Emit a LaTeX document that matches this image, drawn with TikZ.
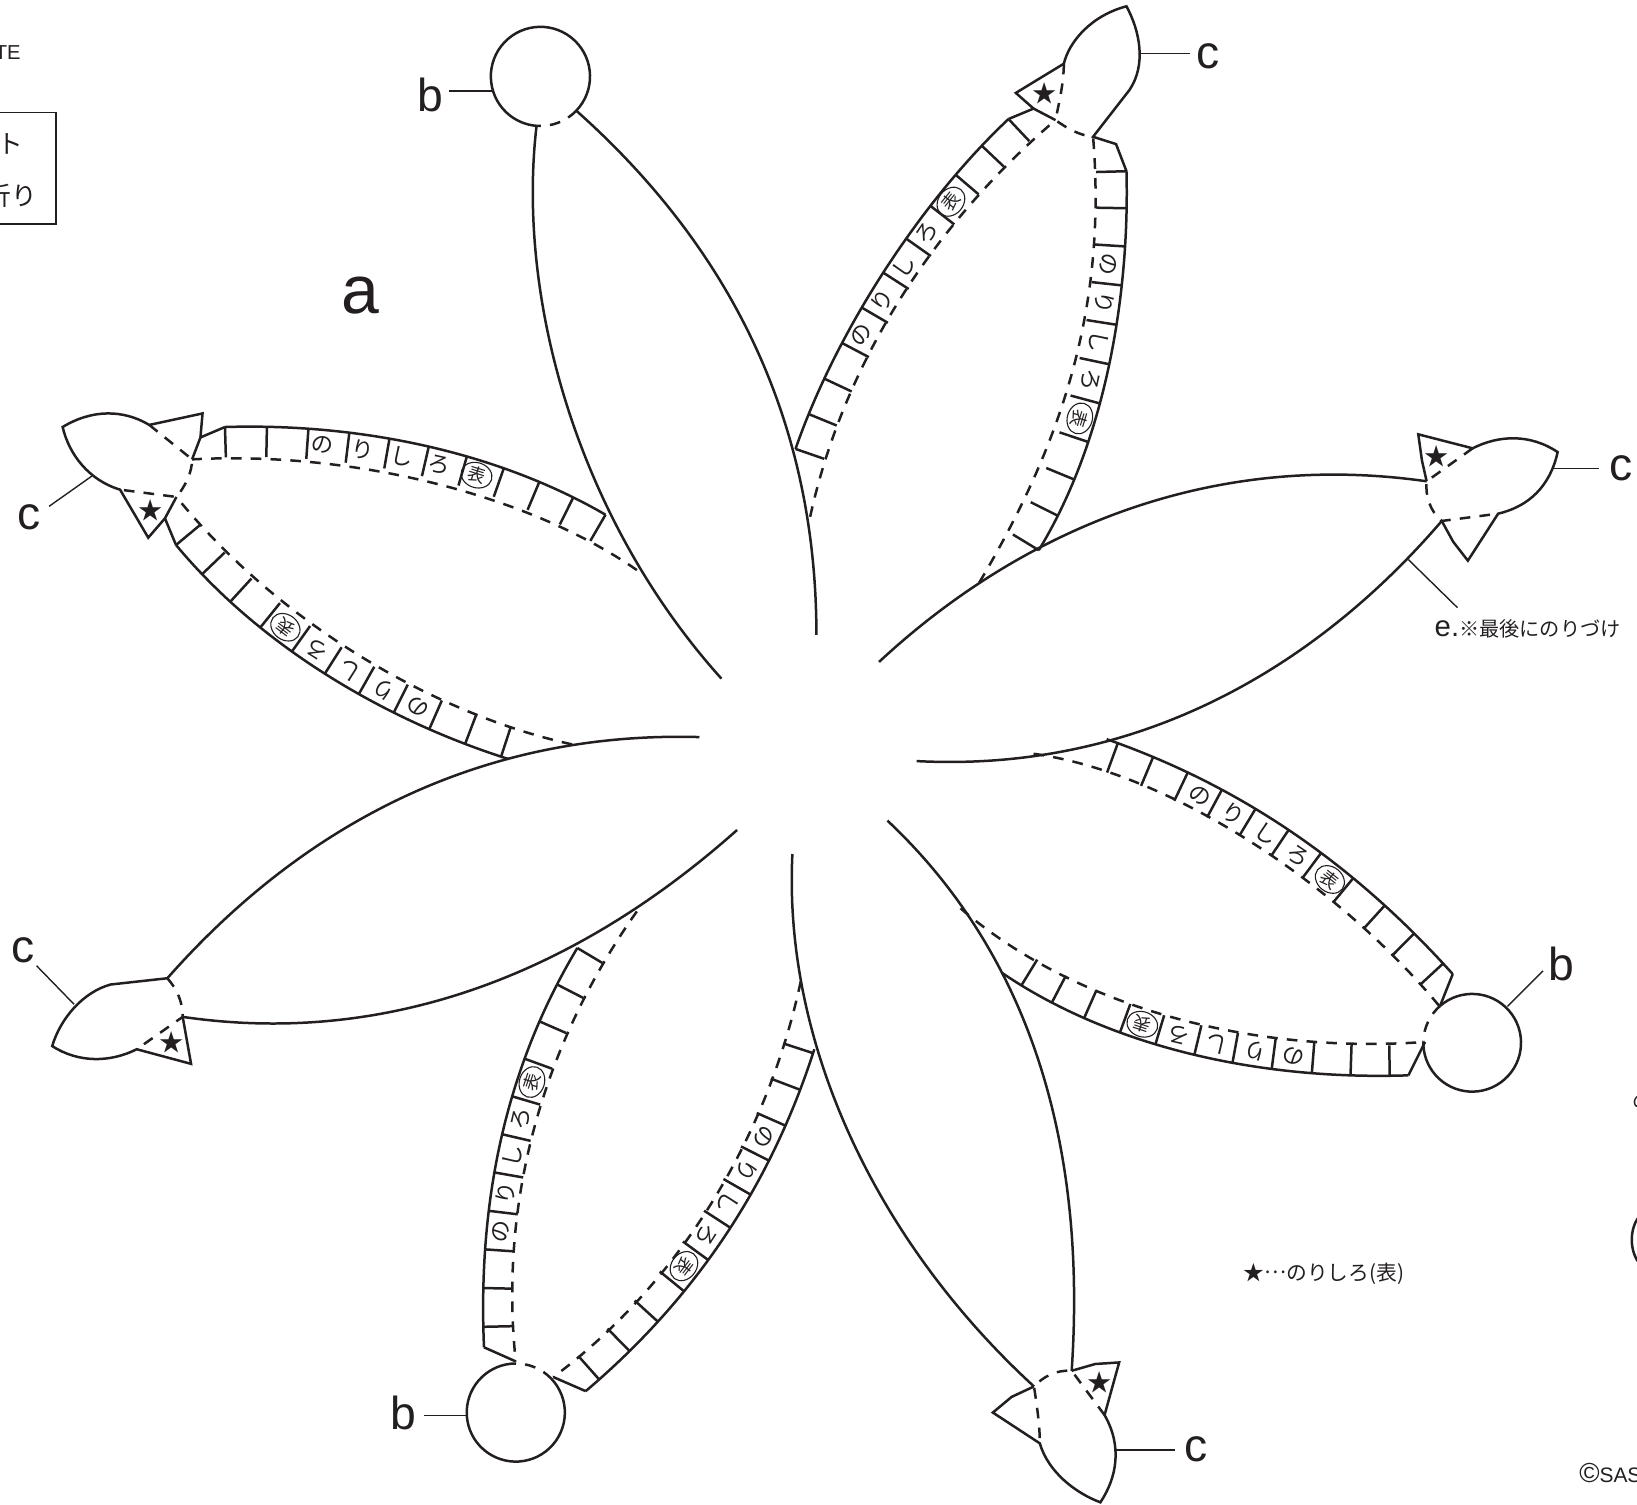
\documentclass[tikz,border=0pt]{standalone}
\usepackage{fontspec}
\setmainfont{Liberation Sans}
\newfontfamily\jpf{Noto Sans CJK JP}
\usetikzlibrary{shapes.geometric}
\definecolor{ink}{HTML}{231F20}
\newcommand\setbez[8]{\def\BXa{#1}\def\BYa{#2}\def\BXb{#3}\def\BYb{#4}\def\BXc{#5}\def\BYc{#6}\def\BXd{#7}\def\BYd{#8}%
  \draw[cut] (\BXa,\BYa) .. controls (\BXb,\BYb) and (\BXc,\BYc) .. (\BXd,\BYd);}
\newcommand\bezpt[1]{%
  \pgfmathsetmacro\Bt{#1}\pgfmathsetmacro\Bs{1-\Bt}%
  \pgfmathsetmacro\Bx{\Bs*\Bs*\Bs*\BXa+3*\Bs*\Bs*\Bt*\BXb+3*\Bs*\Bt*\Bt*\BXc+\Bt*\Bt*\Bt*\BXd}%
  \pgfmathsetmacro\By{\Bs*\Bs*\Bs*\BYa+3*\Bs*\Bs*\Bt*\BYb+3*\Bs*\Bt*\Bt*\BYc+\Bt*\Bt*\Bt*\BYd}%
  \pgfmathsetmacro\Bdx{3*\Bs*\Bs*(\BXb-\BXa)+6*\Bs*\Bt*(\BXc-\BXb)+3*\Bt*\Bt*(\BXd-\BXc)}%
  \pgfmathsetmacro\Bdy{3*\Bs*\Bs*(\BYb-\BYa)+6*\Bs*\Bt*(\BYc-\BYb)+3*\Bt*\Bt*(\BYd-\BYc)}%
  \pgfmathsetmacro\Bl{veclen(\Bdx,\Bdy)}%
  \pgfmathsetmacro\Bnx{-\Bdy/\Bl}\pgfmathsetmacro\Bny{\Bdx/\Bl}}
\newcommand\bezticks[2]{\foreach \tt in {#2}{\bezpt{\tt}%
  \pgfmathsetmacro\Ex{\Bx+(#1)*\Bnx}\pgfmathsetmacro\Ey{\By+(#1)*\Bny}%
  \draw[cut] (\Bx,\By) -- (\Ex,\Ey);}}
\newcommand\bezpos[2]{\bezpt{#2}%
  \pgfmathsetmacro\Ex{\Bx+0.5*(#1)*\Bnx}\pgfmathsetmacro\Ey{\By+0.5*(#1)*\Bny}%
  \pgfmathsetmacro\Sg{(#1)>0?1:-1}%
  \pgfmathsetmacro\Ang{atan2(\Sg*\Bny,-\Sg*\Bnx)-90}}
\newcommand\bezlab[2]{\foreach \tt/\ch in {#2}{\bezpos{#1}{\tt}%
  \node[tabtext,rotate=\Ang] at (\Ex,\Ey) {\ch};}}
\newcommand\bezomote[2]{\bezpos{#1}{#2}%
  \node[omote,rotate=\Ang] at (\Ex,\Ey) {表};}
\tikzset{
  cut/.style={line width=0.68pt,draw=ink,line join=miter},
  fold/.style={line width=0.68pt,draw=ink,dash pattern=on 2.9pt off 2.5pt},
  lead/.style={line width=0.38pt,draw=ink},
  tabtext/.style={font=\jpf\fontsize{6.1pt}{6.5pt}\selectfont,text=ink,inner sep=0pt},
  omote/.style={draw=ink,ellipse,line width=0.3pt,minimum width=0.3cm,minimum height=0.24cm,inner sep=0pt,font=\jpf\fontsize{4.8pt}{5pt}\selectfont,text=ink},
  letterc/.style={font=\fontsize{12.6pt}{13pt}\selectfont,text=ink,inner sep=0pt},
  note/.style={font=\jpf\fontsize{5.65pt}{6pt}\selectfont,text=ink,inner sep=0pt},
  star/.style={font=\jpf\fontsize{6.6pt}{7pt}\selectfont,text=ink,inner sep=0pt},
}
\begin{document}
\begin{tikzpicture}[x=0.01cm,y=-0.01cm]
\useasboundingbox (0,0) rectangle (1568,1441);
% circles: the part over the petal is a fold line
\draw[cut] (552,106) arc[start angle=43.7,end angle=-265.7,radius=47.5];
\draw[fold] (552,106) arc[start angle=43.7,end angle=94.3,radius=47.5];
\draw[cut] (1379.3,963.6) arc[start angle=228.8,end angle=541.6,radius=46.8];
\draw[fold] (1379.3,963.6) arc[start angle=228.8,end angle=181.6,radius=46.8];
\draw[cut] (528.2,1320.7) arc[start angle=316.6,end angle=628.8,radius=47];
\draw[fold] (528.2,1320.7) arc[start angle=316.6,end angle=268.8,radius=47];
% ---- top petal
\draw[cut] (514,120) .. controls (494,290) and (556,500) .. (691,650);
\draw[cut] (552,106) .. controls (680,220) and (782,380) .. (782,608);
% ---- top right petal
\setbez{762}{430}{800}{320}{880}{195}{966}{114}
\bezticks{29}{0,.1,.2,.3,.4,.5,.6,.7,.8,.9,1}
\bezlab{26}{.34/の,.44/り,.54/し,.64/ろ}
\bezomote{26}{.74}
\draw[fold] (776,495) .. controls (810,340) and (900,210) .. (1011,115);
\setbez{995}{527}{1060}{420}{1082}{280}{1079}{164}
\bezticks{-29}{0,.1,.2,.3,.4,.5,.6,.7,.8,.9,1}
\bezlab{-29}{.45/ろ,.55/し,.65/り,.75/の}
\bezomote{-29}{.35}
\draw[fold] (938,558) .. controls (1020,420) and (1060,290) .. (1047,131);
\draw[cut] (966,114) -- (990,104) -- (973,89) -- (1019,61) .. controls (1024,40) and (1045,15) .. (1079,6)
  .. controls (1092,30) and (1098,62) .. (1082,86) -- (1047,131) -- (1069,138) -- (1079,164);
\draw[cut] (990,104) -- (1011,115);
\draw[fold] (1019,61) .. controls (1019,80) and (1014,100) .. (1011,115) .. controls (1022,123) and (1035,130) .. (1047,131);
\node[star] (s1) at (1001,89) {★};
% ---- right petal
\draw[cut] (842,634) .. controls (970,515) and (1150,430) .. (1366.5,461);
\draw[cut] (878,729) .. controls (1090,740) and (1260,640) .. (1381,499);
\draw[cut] (1366.5,461) -- (1362,441) -- (1358.5,416) -- (1410.6,429.4) .. controls (1435,417) and (1465,415) .. (1492,433)
  .. controls (1485,465) and (1465,485) .. (1435,492) -- (1406,537) -- (1392,519) -- (1381,499);
\draw[fold] (1410.6,429.4) -- (1366.5,461) .. controls (1365,475) and (1370,490) .. (1381,499) -- (1435,492);
\node[star] (s2) at (1376,437) {★};
% ---- lower right petal
\setbez{1060}{708}{1180}{750}{1290}{820}{1391.5}{933}
\bezticks{30}{.03,.125,.22,.315,.41,.505,.6,.695,.79,.88,.97}
\bezlab{30}{.2745/の,.3695/り,.4645/し,.5595/ろ}
\bezomote{30}{.6545}
\draw[fold] (990,722) .. controls (1120,740) and (1280,845) .. (1379,964);
\setbez{960}{932}{1060}{1000}{1200}{1035}{1349}{1030}
\bezticks{-29}{.06,.15,.24,.335,.425,.52,.61,.7,.79,.875,.96}
\bezlab{-29}{.4725/ろ,.565/し,.6575/り,.745/の}
\bezomote{-29}{.38}
\draw[fold] (920,870) .. controls (1030,965) and (1200,1010) .. (1365,998);
\draw[cut] (1391.5,933) -- (1379.3,963.6);
\draw[cut] (1349,1030) -- (1365,998);
% ---- bottom petal
\draw[cut] (759,818) .. controls (750,1000) and (840,1190) .. (990.4,1328);
\draw[cut] (850,786) .. controls (950,880) and (1045,1040) .. (1026.5,1313);
\draw[cut] (990.4,1328) -- (969,1338) -- (951,1353) -- (996,1382.5) .. controls (1004,1410) and (1030,1430) .. (1054,1439)
  .. controls (1070,1415) and (1075,1385) .. (1058,1355.4) -- (1072,1305) -- (1049,1306.5) -- (1026.5,1313);
\draw[fold] (1058,1355.4) -- (1026.5,1313) .. controls (1012,1312) and (1000,1318) .. (990.4,1328) .. controls (993,1345) and (996,1365) .. (996,1382.5);
\node[star] (s3) at (1053,1324) {★};
% ---- bottom left petal
\setbez{553}{908}{480}{1030}{458}{1160}{463.6}{1290.5}
\bezticks{-28}{0,.095,.19,.285,.38,.475,.57,.665,.76,.855,.95}
\bezlab{-28}{.7125/の,.6175/り,.5225/し,.4275/ろ}
\bezomote{-28}{.3325}
\draw[fold] (610,873) .. controls (520,1000) and (478,1150) .. (494,1304);
\setbez{780}{1005}{740}{1130}{670}{1240}{561}{1332.5}
\bezticks{30}{.01,.105,.2,.295,.39,.485,.58,.675,.77,.865,.96}
\bezlab{30}{.2475/の,.3425/り,.4375/し,.5325/ろ}
\bezomote{30}{.6275}
\draw[fold] (767,940) .. controls (735,1090) and (650,1230) .. (530,1319);
\draw[cut] (463.6,1290.5) -- (494,1304);
\draw[cut] (561,1332.5) -- (530,1319);
% ---- lower left petal
\draw[cut] (670,706) .. controls (460,700) and (290,790) .. (160.3,937);
\draw[cut] (706,795) .. controls (560,925) and (380,1004) .. (175,974);
\draw[cut] (160.3,937) -- (106,943) .. controls (80,950) and (58,975) .. (50,1002) .. controls (75,1018) and (105,1018) .. (131,1005) -- (183,1019) -- (175,974);
\draw[fold] (160.3,937) .. controls (170,948) and (175,960) .. (175,974) -- (131,1005);
\node[star] (s4) at (164,998) {★};
% ---- left petal
\setbez{580}{493}{480}{435}{350}{405}{215.5}{409}
\bezticks{-29}{0,.1,.2,.3,.4,.5,.6,.7,.8,.9,1}
\bezlab{-29}{.462/ろ,.562/し,.662/り,.762/の}
\bezomote{-29}{.362}
\draw[fold] (610,546) .. controls (500,470) and (330,432) .. (184,440);
\setbez{487}{727}{370}{690}{250}{620}{168.6}{522}
\bezticks{30}{.02,.118,.216,.314,.412,.51,.608,.706,.804,.902,1}
\bezlab{30}{.265/の,.363/り,.461/し,.559/ろ}
\bezomote{30}{.657}
\draw[fold] (548,713) .. controls (420,685) and (270,600) .. (169,476);
\draw[cut] (215.5,409) -- (192,419) -- (184,440);
\draw[cut] (192,419) -- (194,396) -- (143,407) .. controls (118,392) and (88,392) .. (60,409)
  .. controls (66,435) and (85,460) .. (115,469) -- (142,515) -- (158,496.5) -- (169,476);
\draw[cut] (158,496.5) -- (168.6,522);
\draw[fold] (143,407) -- (184,440) .. controls (184,452) and (178,465) .. (169,476) -- (115,469);
\node[star] (s5) at (144,489) {★};
% ---- leaders and letters
\node[letterc] (lb1) at (412,91) {b};
\coordinate (lb1a) at (430,87); \coordinate (lb1b) at (472,87); \draw[lead] (lb1a) -- (lb1b);
\node[letterc] (lc1) at (1157.5,54) {c};
\coordinate (lc1a) at (1092,51.5); \coordinate (lc1b) at (1140,51.5); \draw[lead] (lc1a) -- (lc1b);
\node[letterc] (lc2) at (1552.5,449) {c};
\coordinate (lc2a) at (1488,449); \coordinate (lc2b) at (1532,449); \draw[lead] (lc2a) -- (lc2b);
\node[letterc] (lc3) at (27.5,495) {c};
\coordinate (lc3a) at (88,456); \coordinate (lc3b) at (47,485); \draw[lead] (lc3a) -- (lc3b);
\node[letterc] (lc4) at (22.5,910) {c};
\coordinate (lc4a) at (71,962); \coordinate (lc4b) at (35,925); \draw[lead] (lc4a) -- (lc4b);
\node[letterc] (lb2) at (1496,923) {b};
\coordinate (lb2a) at (1444,964); \coordinate (lb2b) at (1478,930); \draw[lead] (lb2a) -- (lb2b);
\node[letterc] (lb3) at (386,1353) {b};
\coordinate (lb3a) at (406,1356); \coordinate (lb3b) at (448,1356); \draw[lead] (lb3a) -- (lb3b);
\node[letterc] (lc5) at (1145.5,1388) {c};
\coordinate (lc5a) at (1068,1389); \coordinate (lc5b) at (1125,1389); \draw[lead] (lc5a) -- (lc5b);
\coordinate (lea) at (1349,536); \coordinate (leb) at (1396,582); \draw[lead] (lea) -- (leb);
\node[font=\fontsize{18.5pt}{20pt}\selectfont,text=ink,inner sep=0pt] (la) at (345.5,283) {a};
% ---- notes
\node[anchor=west,inner sep=0pt,text=ink] (ne) at (1373.5,602) {\fontsize{8pt}{8pt}\selectfont e.\jpf\fontsize{5.5pt}{6pt}\selectfont ※最後にのりづけ};
\node[note,anchor=west] (nstar) at (1190.5,1220) {★\raisebox{0.35em}{…}のりしろ(表)};
\node[anchor=east,inner sep=0pt,text=ink,font=\fontsize{5.5pt}{6pt}\selectfont] (nte) at (20.5,50) {TE};
\node[anchor=west,inner sep=0pt,text=ink,font=\fontsize{5.7pt}{6pt}\selectfont] (ncopy) at (1512,1411) {{\fontsize{7.5pt}{7pt}\selectfont ©}SAS};
\draw[lead] (-5,108) -- (53.5,108) -- (53.5,214.5) -- (-5,214.5);
\node[anchor=east,inner sep=0pt,text=ink,font=\jpf\fontsize{7pt}{8pt}\selectfont] (nt) at (23,138) {ト};
\node[anchor=east,inner sep=0pt,text=ink,font=\jpf\fontsize{7pt}{8pt}\selectfont] (nf) at (36,187) {折り};
\node[anchor=west,inner sep=0pt,text=ink,font=\jpf\fontsize{5.3pt}{6pt}\selectfont] (nn) at (1563,1055) {の};
\draw[cut] (1572,1163) .. controls (1560,1175) and (1560,1200) .. (1572,1212);
\end{tikzpicture}
\end{document}
